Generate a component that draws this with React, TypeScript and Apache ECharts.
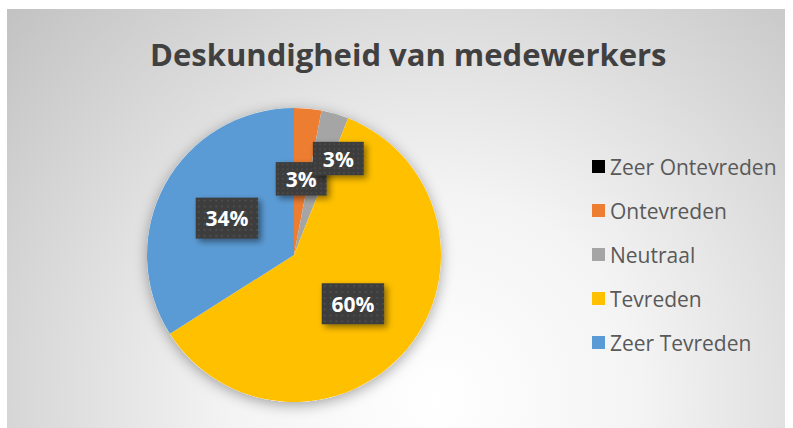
import React, { useEffect, useRef } from "react";
import * as echarts from "echarts";

const titleText = "Deskundigheid van medewerkers";
const categories = ["Zeer Ontevreden", "Ontevreden", "Neutraal", "Tevreden", "Zeer Tevreden"];
const values = [0, 3, 3, 60, 34];
const colors = ["#000000", "#ED7D31", "#A5A5A5", "#FFC000", "#5B9BD5"];

const FONT = "'Open Sans', Lato, sans-serif";

function makeDotPattern(): string {
  const c = document.createElement("canvas");
  c.width = 64;
  c.height = 42;
  const g = c.getContext("2d");
  if (!g) return "";
  g.fillStyle = "#3d3d3d";
  g.fillRect(0, 0, 64, 42);
  g.fillStyle = "#4d4d4d";
  for (let y = 2; y < 42; y += 6) {
    for (let x = 2; x < 64; x += 6) {
      g.fillRect(x, y, 2, 2);
    }
  }
  return c.toDataURL("image/png");
}

export default function App() {
  const ref = useRef<HTMLDivElement>(null);
  useEffect(() => {
    if (!ref.current) return;
    const chart = echarts.init(ref.current, null, { renderer: "svg" });
    const W = 778;
    const H = 419;
    const center = [287, 246];
    const radius = 147;
    const pattern = makeDotPattern();

    const labelBase = {
      show: true,
      position: "inside",
      color: "#ffffff",
      fontFamily: FONT,
      fontWeight: "bold",
      fontSize: 21,
      backgroundColor: pattern ? { image: pattern } : "#404040",
      padding: [10, 10, 10, 10],
      shadowColor: "rgba(0,0,0,0.45)",
      shadowBlur: 6,
      shadowOffsetX: 3,
      shadowOffsetY: 3,
      formatter: (p: any) => Math.round(p.percent) + "%",
    };

    const data = categories.map((name, i) => {
      const item: any = { name, value: values[i], itemStyle: { color: colors[i] } };
      if (values[i] === 0) item.label = { show: false };
      if (i === 2) item.label = { offset: [23, -23] };
      return item;
    });

    chart.setOption({
      animation: false,
      graphic: [
        {
          type: "rect",
          z: -10,
          silent: true,
          shape: { x: 0, y: 0, width: W, height: H },
          style: {
            fill: new echarts.graphic.RadialGradient(430, 390, 580, [
              { offset: 0, color: "#ffffff" },
              { offset: 0.35, color: "#f4f4f4" },
              { offset: 1, color: "#c2c2c2" },
            ], true),
          },
        },
      ],
      title: {
        text: titleText,
        left: 138,
        top: 24,
        padding: 5,
        textStyle: {
          fontFamily: FONT,
          fontWeight: "bold",
          fontSize: 31,
          color: "#404040",
        },
      },
      legend: {
        data: categories,
        orient: "vertical",
        left: 580,
        top: 142,
        itemWidth: 13,
        itemHeight: 13,
        itemGap: 23,
        icon: "rect",
        selectedMode: false,
        textStyle: {
          fontFamily: FONT,
          fontSize: 21,
          color: "#595959",
        },
      },
      series: [
        {
          type: "pie",
          name: "shadow",
          silent: true,
          center,
          radius,
          z: 1,
          label: { show: false },
          labelLine: { show: false },
          emphasis: { disabled: true },
          data: [
            {
              name: "__shadow",
              value: 1,
              itemStyle: {
                color: "#ffffff",
                shadowBlur: 14,
                shadowColor: "rgba(0,0,0,0.35)",
                shadowOffsetY: 3,
              },
            },
          ],
        },
        {
          type: "pie",
          name: titleText,
          center,
          radius,
          startAngle: 90,
          clockwise: true,
          z: 2,
          avoidLabelOverlap: false,
          labelLayout: { hideOverlap: false },
          itemStyle: { borderWidth: 0 },
          label: labelBase,
          labelLine: { show: false },
          emphasis: { disabled: true },
          data,
        },
      ],
    });
    return () => chart.dispose();
  }, []);

  return (
    <div
      ref={ref}
      style={{ position: "absolute", left: 7, top: 9, width: 778, height: 419 }}
    />
  );
}
